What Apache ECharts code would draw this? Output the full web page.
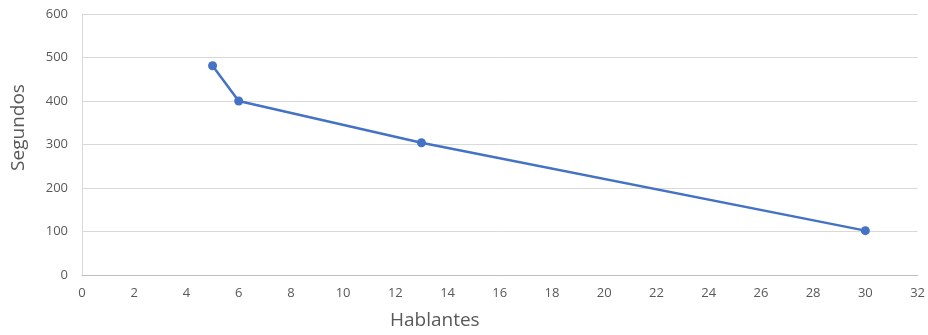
<!DOCTYPE html>
<html>
<head>
<meta charset="utf-8">
<script src="https://cdn.jsdelivr.net/npm/echarts@6/dist/echarts.min.js"></script>
<style>
  html, body { margin: 0; padding: 0; background: #fff; }
  #chart { width: 928px; height: 335px; }
</style>
</head>
<body>
<div id="chart"></div>
<script>
// Speakers vs. seconds
const hablantes = [5, 6, 13, 30];
const segundos = [481, 400, 304, 102];
const xTicks = { min: 0, max: 32, interval: 2 };
const yTicks = { min: 0, max: 600, interval: 100 };

const points = hablantes.map((h, i) => [h, segundos[i]]);

const chart = echarts.init(document.getElementById('chart'), null, { renderer: 'canvas' });
const labelFont = { color: '#595959', fontSize: 13, fontFamily: 'Open Sans, Liberation Sans, sans-serif' };
const nameFont = { color: '#595959', fontSize: 19, fontFamily: 'Open Sans, Liberation Sans, sans-serif' };

chart.setOption({
  animation: false,
  grid: { left: 82, right: 8, top: 14, bottom: 59, containLabel: false },
  xAxis: {
    type: 'value',
    min: xTicks.min, max: xTicks.max, interval: xTicks.interval,
    name: 'Hablantes',
    nameLocation: 'middle',
    nameGap: 36,
    // title sits left of the plot centre
    nameTextStyle: Object.assign({ padding: [0, 130, 0, 0] }, nameFont),
    axisLine: { show: true, lineStyle: { color: '#bfbfbf', width: 1 } },
    axisTick: { show: false },
    axisLabel: Object.assign({ margin: 12 }, labelFont),
    splitLine: { show: false }
  },
  yAxis: {
    type: 'value',
    min: yTicks.min, max: yTicks.max, interval: yTicks.interval,
    name: 'Segundos',
    nameLocation: 'middle',
    nameGap: 54,
    // title sits a little above the plot centre
    nameTextStyle: Object.assign({ padding: [0, 0, 0, 34] }, nameFont),
    axisLine: { show: true, lineStyle: { color: '#d9d9d9', width: 1 } },
    axisTick: { show: false },
    axisLabel: Object.assign({ margin: 14 }, labelFont),
    splitLine: { show: true, lineStyle: { color: '#d9d9d9', width: 1 } }
  },
  series: [{
    type: 'line',
    data: points,
    symbol: 'circle',
    symbolSize: 9,
    lineStyle: { color: '#4472C4', width: 2.5 },
    itemStyle: { color: '#4472C4' }
  }]
});
</script>
</body>
</html>
